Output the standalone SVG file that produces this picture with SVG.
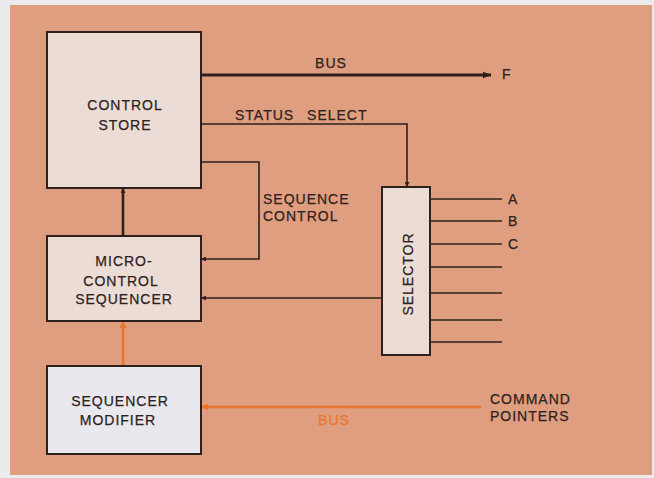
<svg xmlns="http://www.w3.org/2000/svg" width="654" height="478" viewBox="0 0 654 478">
<defs>
<style>
.box{stroke:#2e211c;stroke-width:2}
.cs{fill:#ecdcd6}
.sm{fill:#e9e8ee}
.lbl{font-family:"Liberation Sans",Arial,sans-serif;font-size:14px;fill:#2e221c;stroke:#2e221c;stroke-width:0.25;letter-spacing:1px}
.ln{fill:none;stroke:#2e211c;stroke-width:1.6}
.or{fill:none;stroke:#e9762f;stroke-width:2.6}
.orl{font-family:"Liberation Sans",Arial,sans-serif;font-size:14px;fill:#e9762f;stroke:#e9762f;stroke-width:0.25;letter-spacing:1px}
</style>
<marker id="ah" viewBox="0 0 10 10" refX="10" refY="5" markerWidth="16" markerHeight="5" markerUnits="userSpaceOnUse" orient="auto"><path d="M0,0 L10,5 L0,10 z" fill="#2e211c"/></marker>
<marker id="ahb" viewBox="0 0 10 10" refX="10" refY="5" markerWidth="20" markerHeight="8" markerUnits="userSpaceOnUse" orient="auto"><path d="M0,1 L10,5 L0,9 z" fill="#2e211c"/></marker>
<marker id="aho" viewBox="0 0 10 10" refX="10" refY="5" markerWidth="16" markerHeight="7" markerUnits="userSpaceOnUse" orient="auto"><path d="M0,0 L10,5 L0,10 z" fill="#e9762f"/></marker>
</defs>
<rect x="0" y="0" width="654" height="478" fill="#ebebeb"/>
<rect x="10" y="5" width="642" height="470" fill="#df9e80"/>

<g id="connectors">
<line class="ln" x1="201" y1="75" x2="491" y2="75" style="stroke-width:3" marker-end="url(#ahb)"/>
<polyline class="ln" points="201,124 407,124 407,187" marker-end="url(#ah)"/>
<polyline class="ln" points="201,162 259,162 259,259 201,259" marker-end="url(#ah)"/>
<line class="ln" x1="382" y1="298" x2="201" y2="298" marker-end="url(#ah)"/>
<line class="ln" x1="123" y1="236" x2="123" y2="188" style="stroke-width:2.6" marker-end="url(#ah)"/>
<line class="or" x1="123" y1="366" x2="123" y2="321" marker-end="url(#aho)"/>
<line class="or" x1="481" y1="407" x2="201" y2="407" marker-end="url(#aho)"/>
<line class="ln" x1="430" y1="199" x2="502" y2="199"/>
<line class="ln" x1="430" y1="221" x2="502" y2="221"/>
<line class="ln" x1="430" y1="244" x2="502" y2="244"/>
<line class="ln" x1="430" y1="267" x2="502" y2="267"/>
<line class="ln" x1="430" y1="293" x2="502" y2="293"/>
<line class="ln" x1="430" y1="320" x2="502" y2="320"/>
<line class="ln" x1="430" y1="342" x2="502" y2="342"/>
<text class="lbl" x="331" y="68" text-anchor="middle">BUS</text>
<text class="lbl" x="502" y="79">F</text>
<text class="lbl" x="235" y="120" word-spacing="8">STATUS SELECT</text>
<text class="lbl" x="263" y="204">SEQUENCE</text>
<text class="lbl" x="263" y="221">CONTROL</text>
<text class="lbl" x="508" y="204">A</text>
<text class="lbl" x="508" y="226">B</text>
<text class="lbl" x="508" y="249">C</text>
<text class="orl" x="334" y="425" text-anchor="middle">BUS</text>
<text class="lbl" x="490" y="404">COMMAND</text>
<text class="lbl" x="490" y="421">POINTERS</text>
</g>

<g id="control-store">
<rect class="box cs" x="47" y="32" width="154" height="156"/>
<text class="lbl" x="125" y="110" text-anchor="middle">CONTROL</text>
<text class="lbl" x="125" y="130" text-anchor="middle">STORE</text>
</g>

<g id="micro-control-sequencer">
<rect class="box cs" x="47" y="236" width="154" height="85"/>
<text class="lbl" x="124" y="266" text-anchor="middle">MICRO-</text>
<text class="lbl" x="121" y="286" text-anchor="middle">CONTROL</text>
<text class="lbl" x="124" y="304" text-anchor="middle">SEQUENCER</text>
</g>

<g id="selector">
<rect class="box cs" x="382" y="187" width="48" height="168"/>
<text class="lbl" transform="translate(413,274) rotate(-90)" text-anchor="middle">SELECTOR</text>
</g>

<g id="sequencer-modifier">
<rect class="box sm" x="47" y="366" width="154" height="88"/>
<text class="lbl" x="120" y="406" text-anchor="middle">SEQUENCER</text>
<text class="lbl" x="118" y="425" text-anchor="middle">MODIFIER</text>
</g>
</svg>
